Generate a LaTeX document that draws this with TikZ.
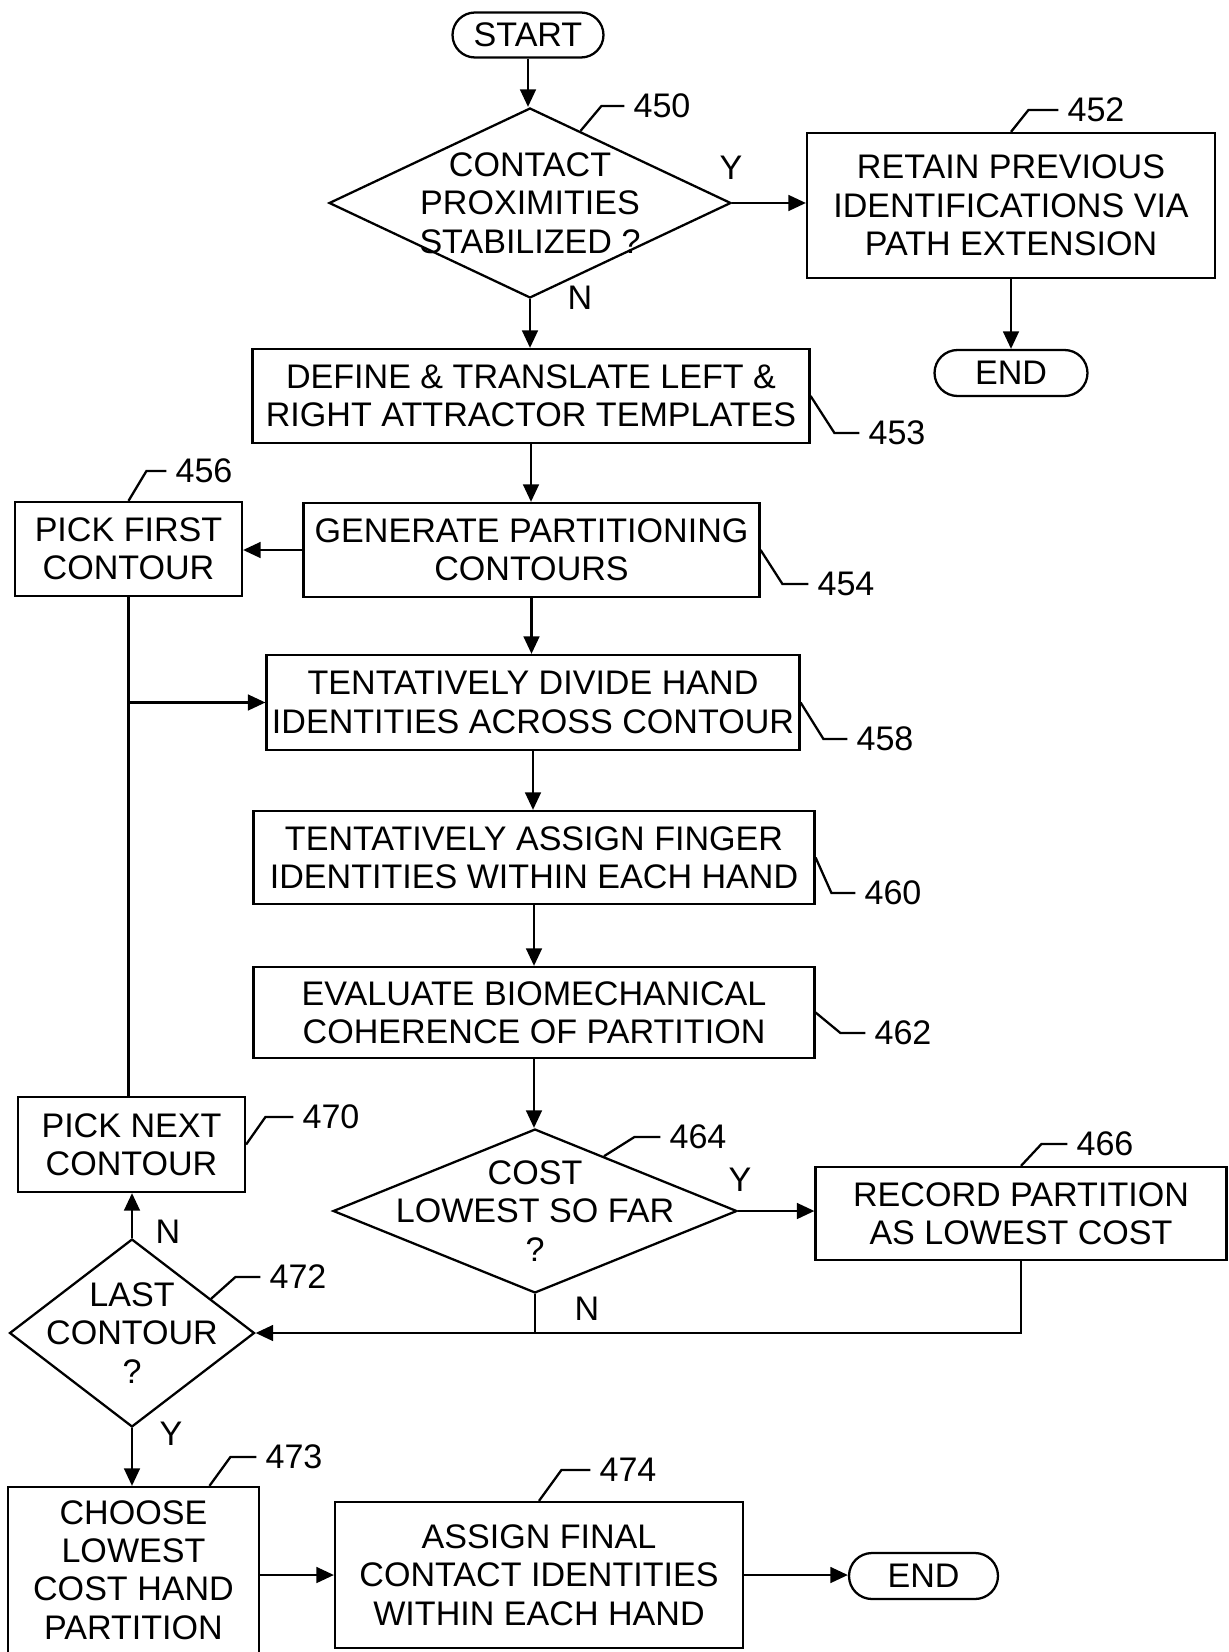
\documentclass[tikz,border=0pt]{standalone}
\usepackage{fontspec}
\setmainfont{Liberation Sans}
\usetikzlibrary{shapes.geometric,shapes.misc,arrows.meta,calc}

\begin{document}
\begin{tikzpicture}[x=0.02cm,y=-0.02cm,line width=1.3pt,
  every node/.style={font=\fontsize{19.4}{21.8}\selectfont},
  box/.style={draw,rectangle,align=center,inner sep=0pt},
  term/.style={draw,rounded rectangle,inner sep=0pt,minimum width=3.02cm,minimum height=0.9cm},
  decide/.style={draw,diamond,inner sep=0pt},
  arr/.style={-{Triangle[length=10pt,width=9pt]}},
  refnum/.style={inner sep=0.16cm}]
  \useasboundingbox (0,0) rectangle (1228,1652);
  % top: start and the stabilized test
  \node[term] (start) at (528,35) {START};
  \node[decide,minimum width=8.04cm,minimum height=3.80cm] (d450) at (530,203) {};
  \node[align=center] (t450) at (d450) {CONTACT\\PROXIMITIES\\STABILIZED ?};
  \node[box,minimum width=8.16cm,minimum height=2.90cm] (b452) at (1011,205.5) {RETAIN PREVIOUS\\IDENTIFICATIONS VIA\\PATH EXTENSION};
  \node[term,minimum width=3.06cm,minimum height=0.92cm] (end1) at (1011,373) {END};
  % main column
  \node[box,minimum width=11.14cm,minimum height=1.88cm] (b453) at (531,396) {DEFINE \& TRANSLATE LEFT \&\\RIGHT ATTRACTOR TEMPLATES};
  \node[box,minimum width=9.12cm,minimum height=1.88cm] (b454) at (531.5,550) {GENERATE PARTITIONING\\CONTOURS};
  \node[box,minimum width=4.54cm,minimum height=1.88cm] (b456) at (128.5,549) {PICK FIRST\\CONTOUR};
  \node[box,minimum width=10.66cm,minimum height=1.90cm] (b458) at (533,702.5) {TENTATIVELY DIVIDE HAND\\IDENTITIES ACROSS CONTOUR};
  \node[box,minimum width=11.22cm,minimum height=1.86cm] (b460) at (534,857.5) {TENTATIVELY ASSIGN FINGER\\IDENTITIES WITHIN EACH HAND};
  \node[box,minimum width=11.22cm,minimum height=1.82cm] (b462) at (534,1012.5) {EVALUATE BIOMECHANICAL\\COHERENCE OF PARTITION};
  \node[decide,minimum width=8.08cm,minimum height=3.28cm] (d464) at (535,1211) {};
  \node[align=center] (t464) at (d464) {COST\\LOWEST SO FAR\\?};
  \node[box,minimum width=8.22cm,minimum height=1.86cm] (b466) at (1021,1213.5) {RECORD PARTITION\\AS LOWEST COST};
  % left loop
  \node[box,minimum width=4.54cm,minimum height=1.90cm] (b470) at (131.5,1144.5) {PICK NEXT\\CONTOUR};
  \node[decide,minimum width=4.90cm,minimum height=3.76cm] (d472) at (132,1333) {};
  \node[align=center] (t472) at (d472) {LAST\\CONTOUR\\?};
  % bottom row
  \node[box,minimum width=5.02cm,minimum height=3.32cm] (b473) at (133.5,1570) {CHOOSE\\LOWEST\\COST HAND\\PARTITION};
  \node[box,minimum width=8.16cm,minimum height=2.92cm] (b474) at (539,1575) {ASSIGN FINAL\\CONTACT IDENTITIES\\WITHIN EACH HAND};
  \node[term,minimum width=2.98cm,minimum height=0.92cm] (end2) at (923.5,1576) {END};

  % connectors
  \draw[arr] (start.south) -- (start.south |- d450.north);
  \draw[arr] (d450.east) -- (d450.east -| b452.west);
  \node (y450) at (731,168) {Y};
  \draw[arr] (d450.south) -- (d450.south |- b453.north);
  \node (n450) at (580,298) {N};
  \draw[arr] (b452.south) -- (end1.north);
  \draw[arr] (b453.south) -- (b453.south |- b454.north);
  \draw[arr] (b454.west) -- (b454.west -| b456.east);
  \draw[arr] (b454.south) -- (b454.south |- b458.north);
  \draw (b456.south) -- (b456.south |- b470.north);
  \coordinate (loop) at (b456.south |- b458.west);
  \draw[arr] (loop) -- (b458.west);
  \draw[arr] (b458.south) -- (b458.south |- b460.north);
  \draw[arr] (b460.south) -- (b460.south |- b462.north);
  \draw[arr] (b462.south) -- (b462.south |- d464.north);
  \draw[arr] (d464.east) -- (d464.east -| b466.west);
  \node (y464) at (740,1180) {Y};
  \draw (d464.south) -- (d464.south |- d472.east);
  \node (n464) at (587,1309) {N};
  \draw[arr] (b466.south) |- (d472.east);
  \draw[arr] (d472.north) -- (d472.north |- b470.south);
  \node (n472) at (168,1232) {N};
  \draw[arr] (d472.south) -- (d472.south |- b473.north);
  \node (y472) at (171,1434) {Y};
  \draw[arr] (b474.west -| b473.east) -- (b474.west);
  \draw[arr] (b474.east) -- (b474.east -| end2.west);

  % reference numbers
  \node[refnum] (r450) at (662,106) {450};
  \draw ($(d450.north)!0.25!(d450.east)$) -- ([xshift=-0.46cm]r450.west) -- (r450.west);
  \node[refnum] (r452) at (1096,110) {452};
  \draw (b452.north) -- ([xshift=-0.6cm]r452.west) -- (r452.west);
  \node[refnum] (r453) at (897,433) {453};
  \draw (b453.east) -- ([xshift=-0.5cm]r453.west) -- (r453.west);
  \node[refnum] (r454) at (846,584) {454};
  \draw (b454.east) -- ([xshift=-0.52cm]r454.west) -- (r454.west);
  \node[refnum] (r456) at (204,471) {456};
  \draw (b456.north) -- ([xshift=-0.4cm]r456.west) -- (r456.west);
  \node[refnum] (r458) at (885,739) {458};
  \draw (b458.east) -- ([xshift=-0.48cm]r458.west) -- (r458.west);
  \node[refnum] (r460) at (893,893) {460};
  \draw (b460.east) -- ([xshift=-0.48cm]r460.west) -- (r460.west);
  \node[refnum] (r462) at (903,1033) {462};
  \draw (b462.east) -- ([xshift=-0.5cm]r462.west) -- (r462.west);
  \node[refnum] (r464) at (698,1137) {464};
  \draw ($(d464.north)!0.34!(d464.east)$) -- ([xshift=-0.52cm]r464.west) -- (r464.west);
  \node[refnum] (r466) at (1105,1144) {466};
  \draw (b466.north) -- ([xshift=-0.52cm]r466.west) -- (r466.west);
  \node[refnum] (r470) at (331,1117) {470};
  \draw (b470.east) -- ([xshift=-0.56cm]r470.west) -- (r470.west);
  \node[refnum] (r472) at (298,1277) {472};
  \draw ($(d472.north)!0.64!(d472.east)$) -- ([xshift=-0.5cm]r472.west) -- (r472.west);
  \node[refnum] (r473) at (294,1457) {473};
  \draw ($(b473.north west)!0.8!(b473.north east)$) -- ([xshift=-0.52cm]r473.west) -- (r473.west);
  \node[refnum] (r474) at (628,1470) {474};
  \draw (b474.north) -- ([xshift=-0.58cm]r474.west) -- (r474.west);
\end{tikzpicture}
\end{document}
